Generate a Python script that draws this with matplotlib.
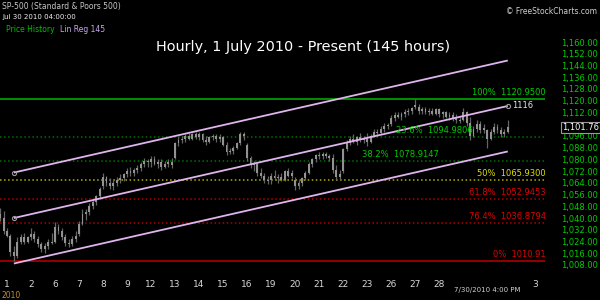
import numpy as np
import matplotlib.pyplot as plt

# hourly bars, first two are the last hours of Jun 30, then 7 bars per day in July
bar_open = [
    1043, 1040,
    1031, 1028, 1017, 1014, 1024, 1027, 1024,  # Jul 1
    1027, 1029, 1026, 1022, 1019, 1021, 1024,  # Jul 2
    1024, 1034, 1031, 1027, 1023, 1022, 1026,  # Jul 6
    1029, 1036, 1043, 1044, 1048, 1051, 1055,  # Jul 7
    1062, 1068, 1064, 1062, 1064, 1066, 1067,  # Jul 8
    1070, 1072, 1071, 1073, 1074, 1077, 1079,  # Jul 9
    1078, 1080, 1077, 1078, 1075, 1077, 1078,  # Jul 12
    1081, 1091, 1093, 1094, 1096, 1094, 1097,  # Jul 13
    1095, 1097, 1093, 1092, 1095, 1096, 1094,  # Jul 14
    1095, 1090, 1085, 1086, 1088, 1091, 1097,  # Jul 15
    1090, 1081, 1076, 1077, 1071, 1069, 1066,  # Jul 16
    1066, 1069, 1067, 1068, 1066, 1072, 1069,  # Jul 19
    1066, 1062, 1064, 1067, 1071, 1077, 1080,  # Jul 20
    1083, 1082, 1084, 1082, 1081, 1073, 1068,  # Jul 21
    1072, 1087, 1091, 1094, 1092, 1095, 1093,  # Jul 22
    1094, 1092, 1096, 1099, 1098, 1101, 1103,  # Jul 23
    1104, 1108, 1110, 1109, 1111, 1112, 1113,  # Jul 26
    1117, 1116, 1113, 1114, 1112, 1113, 1111,  # Jul 27
    1114, 1111, 1112, 1109, 1110, 1108, 1107,  # Jul 28
    1107, 1112, 1105, 1096, 1101, 1104, 1100,  # Jul 29
    1100, 1094, 1099, 1102, 1100, 1097, 1099,  # Jul 30
]
bar_high = [
    1047, 1045,
    1033, 1029, 1021, 1027, 1029, 1030, 1028,
    1033, 1031, 1028, 1024, 1023, 1026, 1030,
    1037, 1036, 1033, 1029, 1026, 1028, 1031,
    1038, 1046, 1046, 1050, 1053, 1056, 1061,
    1071, 1069, 1067, 1066, 1068, 1070, 1071,
    1074, 1075, 1074, 1076, 1078, 1081, 1080,
    1082, 1082, 1080, 1080, 1079, 1080, 1081,
    1092, 1095, 1096, 1097, 1098, 1098, 1099,
    1099, 1098, 1096, 1096, 1097, 1097, 1097,
    1096, 1092, 1088, 1089, 1092, 1099, 1099,
    1091, 1082, 1079, 1078, 1074, 1071, 1069,
    1071, 1073, 1070, 1071, 1073, 1074, 1073,
    1068, 1066, 1068, 1072, 1078, 1081, 1084,
    1085, 1085, 1085, 1084, 1084, 1076, 1073,
    1088, 1093, 1096, 1097, 1096, 1098, 1096,
    1098, 1097, 1101, 1101, 1103, 1105, 1105,
    1110, 1112, 1112, 1112, 1114, 1115, 1116,
    1120.95, 1118, 1116, 1116, 1115, 1115, 1115,
    1115, 1113, 1113, 1112, 1112, 1111, 1109,
    1115, 1113, 1109, 1103, 1107, 1106, 1104,
    1101, 1101, 1105, 1104, 1102, 1101, 1107,
]
bar_low = [
    1038, 1029,
    1027, 1014, 1010.91, 1013, 1022, 1022, 1023,
    1025, 1024, 1020, 1017, 1016, 1019, 1022,
    1023, 1029, 1025, 1021, 1020, 1021, 1024,
    1028, 1035, 1039, 1042, 1046, 1049, 1053,
    1060, 1062, 1060, 1059, 1062, 1064, 1065,
    1068, 1069, 1069, 1071, 1072, 1075, 1075,
    1075, 1076, 1074, 1073, 1074, 1075, 1074,
    1080, 1089, 1091, 1092, 1093, 1093, 1094,
    1093, 1092, 1090, 1091, 1093, 1092, 1092,
    1089, 1083, 1084, 1084, 1087, 1090, 1093,
    1079, 1074, 1072, 1069, 1067, 1064, 1063,
    1063, 1066, 1064, 1065, 1065, 1068, 1067,
    1059, 1060, 1062, 1066, 1070, 1075, 1078,
    1080, 1080, 1081, 1079, 1071, 1066, 1066,
    1071, 1086, 1090, 1091, 1090, 1092, 1091,
    1089, 1091, 1095, 1096, 1097, 1099, 1101,
    1103, 1106, 1108, 1107, 1109, 1110, 1111,
    1114, 1111, 1111, 1111, 1110, 1110, 1110,
    1109, 1108, 1108, 1107, 1106, 1105, 1105,
    1106, 1103, 1093, 1095, 1099, 1098, 1098,
    1088, 1093, 1097, 1098, 1095, 1095, 1098,
]
bar_close = [
    1040, 1031,
    1028, 1017, 1014, 1024, 1027, 1024, 1027,
    1029, 1026, 1022, 1019, 1021, 1024, 1023,
    1034, 1031, 1027, 1023, 1022, 1026, 1028,
    1036, 1043, 1044, 1048, 1051, 1055, 1060,
    1068, 1064, 1062, 1064, 1066, 1067, 1070,
    1072, 1071, 1073, 1074, 1077, 1079, 1078,
    1080, 1077, 1078, 1075, 1077, 1078, 1076,
    1091, 1093, 1094, 1096, 1094, 1097, 1095,
    1097, 1093, 1092, 1095, 1096, 1094, 1095,
    1090, 1085, 1086, 1088, 1091, 1097, 1096,
    1081, 1076, 1077, 1071, 1069, 1066, 1065,
    1069, 1067, 1068, 1066, 1072, 1069, 1071,
    1062, 1064, 1067, 1071, 1077, 1080, 1083,
    1082, 1084, 1082, 1081, 1073, 1068, 1070,
    1087, 1091, 1094, 1092, 1095, 1093, 1094,
    1092, 1096, 1099, 1098, 1101, 1103, 1103,
    1108, 1110, 1109, 1111, 1112, 1113, 1115,
    1116, 1113, 1114, 1112, 1113, 1111, 1114,
    1111, 1112, 1109, 1110, 1108, 1107, 1106,
    1112, 1105, 1096, 1101, 1104, 1100, 1101.5,
    1094, 1099, 1102, 1100, 1097, 1099, 1101.76,
]

day_labels = ["1", "2", "6", "7", "8", "9", "12", "13", "14", "15", "16", "19",
              "20", "21", "22", "23", "26", "27", "28", "", "", "", "3"]

fib_pct = ["100%", "23.6%", "38.2%", "50%", "61.8%", "76.4%", "0%"]
fib_val = [1120.95, 1094.9806, 1078.9147, 1065.93, 1052.9453, 1036.8794, 1010.91]
fib_txt = ["1120.9500", "1094.9806", "1078.9147", "1065.9300", "1052.9453", "1036.8794", "1010.91"]

# linear regression channel (145 hours): mid line start/end, half width
reg_start, reg_end, reg_width = 1040.0, 1116.4, 31.0
last_price = 1101.76

price_ticks = np.arange(1008, 1161, 8)

bg = "black"
fig = plt.figure(figsize=(6, 3), dpi=100, facecolor=bg)
ax = fig.add_axes([0, 0.08, 545 / 600, 0.8533])
ax.set_facecolor(bg)
for s in ax.spines.values():
    s.set_visible(False)

t = np.arange(len(bar_close)) - 2
o = np.array(bar_open)
c = np.array(bar_close)
ax.vlines(t, bar_low, bar_high, color="#646464", lw=0.9, zorder=3)
ax.bar(t, np.maximum(np.abs(c - o), 0.6), bottom=np.minimum(o, c), width=0.55,
       color="#929292", zorder=4)

# fib retracement lines
fib_style = [("#009a00", "-", 1.3), ("#007000", ":", 1.1), ("#007000", ":", 1.1),
             ("#b0b000", ":", 1.1), ("#b00000", ":", 1.1), ("#b00000", ":", 1.1),
             ("#a00000", "-", 1.3)]
fib_col = ["#00d000", "#00c800", "#00c800", "#e0e000", "#e00000", "#e00000", "#e00000"]
for v, (col, ls, lw) in zip(fib_val, fib_style):
    ax.axhline(v, color=col, ls=ls, lw=lw, zorder=2)

xmin, xmax = -2.04, 156.85
label_x = [157.0, 113.4, 103.5, 157.0, 157.0, 157.0, 157.0]
label_ha = ["right", "left", "left", "right", "right", "right", "right"]
for p, v, s, col, lx, ha in zip(fib_pct, fib_val, fib_txt, fib_col, label_x, label_ha):
    ax.text(lx, v + 1.3, p + "  " + s, color=col, fontsize=6, ha=ha, va="bottom",
            zorder=6, clip_on=False)

# regression channel
x0, x1 = 2, 146
for off in (reg_width, 0, -reg_width):
    ax.plot([x0, x1], [reg_start + off, reg_end + off], color="#e0b4ec", lw=1.3,
            zorder=5, solid_capstyle="butt")
ax.plot([x0, x0], [reg_start + reg_width, reg_start], "o", ms=3, mfc="none",
        mec="#9a9a9a", mew=0.8, zorder=6)
ax.plot([x1], [reg_end], "o", ms=3, mfc="none", mec="#9a9a9a", mew=0.8, zorder=6)
ax.text(x1 + 1.3, reg_end, "1116", color="#e8e8e8", fontsize=6, va="center",
        ha="left", zorder=6)

ax.set_xlim(xmin, xmax)
ax.set_ylim(1000.5, 1175.0)

ax.set_xticks(np.arange(len(day_labels)) * 7)
ax.set_xticklabels(day_labels)
ax.set_yticks(price_ticks)
# the 1,104 label sits under the last-price box
ax.set_yticklabels(["" if v == 1104 else "{:,.2f}".format(v) for v in price_ticks])
ax.yaxis.tick_right()
ax.tick_params(axis="y", length=0, pad=11.5, labelsize=6, labelcolor="#00cc00")
ax.tick_params(axis="x", length=0, pad=3, labelsize=6.5, labelcolor="#d8d8d8")

ax.text(1.0 + 17 / 545, last_price, "{:,.2f}".format(last_price), transform=ax.get_yaxis_transform(),
        color="white", fontsize=6, ha="left", va="center", zorder=7,
        bbox=dict(boxstyle="square,pad=0.1", fc="black", ec="#9a9a9a", lw=0.8))

# header texts
fig.text(2 / 600, 1 - 6 / 300, "SP-500 (Standard & Poors 500)", color="#c8c8c8",
         fontsize=5.5, va="center", ha="left")
fig.text(2 / 600, 1 - 17 / 300, "Jul 30 2010 04:00:00", color="#f0f0f0",
         fontsize=5, va="center", ha="left")
fig.text(6 / 600, 1 - 30 / 300, "Price History", color="#00c000",
         fontsize=5.5, va="center", ha="left")
fig.text(60 / 600, 1 - 30 / 300, "Lin Reg 145", color="#c8a8f0",
         fontsize=5.5, va="center", ha="left")
fig.text(597 / 600, 1 - 12 / 300, "\u00a9 FreeStockCharts.com", color="#d0d0d0",
         fontsize=5.5, va="center", ha="right")
fig.text(303 / 600, 1 - 47 / 300, "Hourly, 1 July 2010 - Present (145 hours)",
         color="white", fontsize=10.4, va="center", ha="center")
fig.text(487 / 600, 1 - 290 / 300, "7/30/2010 4:00 PM", color="#d0d0d0",
         fontsize=5, va="center", ha="center")
fig.text(1 / 600, 1 - 296 / 300, "2010", color="#c09030", fontsize=5.5,
         va="center", ha="left")

fig.savefig("out.png", dpi=100, facecolor=bg)
